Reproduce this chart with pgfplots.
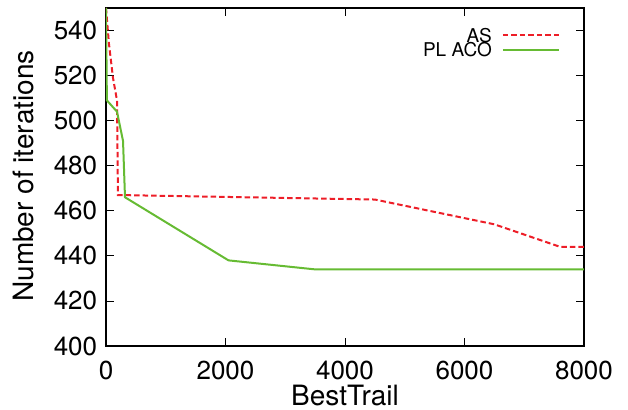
\documentclass[border=0pt]{standalone}
\usepackage{pgfplots}
\pgfplotsset{compat=1.18}
\usepackage{fontspec}
\setmainfont{TeX Gyre Heros}
\definecolor{asred}{RGB}{237,30,40}
\definecolor{plgreen}{RGB}{102,187,51}
\tikzset{
    asline/.style={color=asred, line width=2bp, dash pattern=on 5.5bp off 3bp},
    plline/.style={color=plgreen, line width=2bp},
}
\begin{document}
\fontsize{26bp}{30bp}\selectfont
\begin{tikzpicture}
\path[use as bounding box] (-106bp,-64bp) rectangle (522bp,346bp);
\begin{axis}[
    scale only axis,
    width=478bp, height=338bp,
    xmin=0, xmax=8000, ymin=400, ymax=550,
    xtick={0,2000,4000,6000,8000},
    ytick={400,420,440,460,480,500,520,540},
    tick align=inside,
    major tick length=8bp,
    tick style={black, line width=0.8bp},
    axis line style={black, line width=1.2bp},
    /pgf/number format/assume math mode=true,
    /pgf/number format/1000 sep={},
    scaled x ticks=false,
    xticklabel style={yshift=-6bp},
    xlabel={BestTrail},
    ylabel={Number of iterations},
    label style={font=\fontsize{28bp}{32bp}\selectfont},
    xlabel style={at={(axis description cs:0.5,0)}, anchor=base, yshift=-59bp},
    ylabel style={at={(axis description cs:-0.1527,0.503)}, anchor=base},
    legend plot pos=right,
    legend cell align=right,
    legend image code/.code={\draw[#1] (0bp,0bp) -- (56bp,0bp);},
    legend style={draw=none, fill=none, at={(axis description cs:0.950,0.943)}, anchor=north east,
        font=\fontsize{19bp}{21bp}\selectfont, row sep=-1.5bp, inner sep=0pt,
        column sep=9bp, nodes={inner sep=1bp, text height=13.7bp, text depth=0bp}},
]
\addplot[asline] coordinates {
    (0,550) (50,534) (117,519) (184,509) (200,467)
    (4500,465) (6500,454) (7600,444) (8000,444)
};
\addlegendentry{AS}
\addplot[plline] coordinates {
    (0,550) (15,509) (184,504) (285,491) (318,466)
    (2050,438) (3500,434) (8000,434)
};
\addlegendentry{PL ACO}
\end{axis}
\end{tikzpicture}
\end{document}
